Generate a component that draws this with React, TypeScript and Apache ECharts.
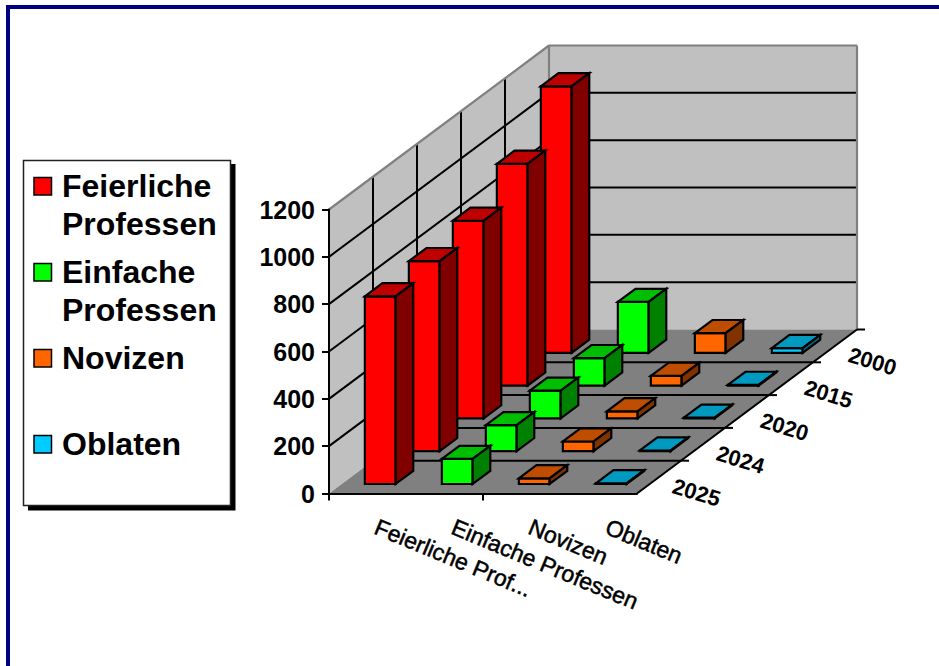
import React, { useEffect, useRef } from "react";
import * as echarts from "echarts";

const categories = ["Feierliche Prof...", "Einfache Professen", "Novizen", "Oblaten"];
const years = ["2000", "2015", "2020", "2024", "2025"];
const feierliche = [1126, 937, 835, 803, 793];
const einfache = [215, 116, 117, 110, 106];
const novizen = [83, 41, 30, 41, 24];
const oblaten = [20, 3, 3, 3, 3];
const valueTicks = [0, 200, 400, 600, 800, 1000, 1200];
const xTickPositions = [0, 2];
const legendLabels = ["Feierliche\nProfessen", "Einfache\nProfessen", "Novizen", "Oblaten"];
const seriesNames = ["Feierliche Professen", "Einfache Professen", "Novizen", "Oblaten"];
const seriesValues = [feierliche, einfache, novizen, oblaten];
const faceColors = [
  ["#FF0000", "#BF0000", "#800000"],
  ["#00FF00", "#00BF00", "#008000"],
  ["#FF6600", "#BF4D00", "#803300"],
  ["#00CCFF", "#0099BF", "#006680"],
];

const FONT = '"Liberation Sans", Arial, sans-serif';
const DEPTH_DX = 44;
const DEPTH_DY = -32.8;
const BAR_START = 0.3;
const BAR_WIDTH = 0.4;
const BAR_DEPTH_START = 0.29;
const BAR_DEPTH = 0.4;

function project(api: any, cat: number, depth: number, value: number): number[] {
  const p = api.coord([cat, value]);
  return [p[0] + depth * DEPTH_DX, p[1] + depth * DEPTH_DY];
}

function renderBackdrop(_p: any, api: any) {
  const rows = years.length;
  const cats = categories.length;
  const top = valueTicks[valueTicks.length - 1];
  const P = (c: number, d: number, v: number) => project(api, c, d, v);
  const kids: any[] = [];
  kids.push({
    type: "polygon",
    shape: { points: [P(0, 0, 0), P(0, rows, 0), P(0, rows, top), P(0, 0, top)] },
    style: { fill: "#C0C0C0" },
  });
  kids.push({
    type: "polygon",
    shape: { points: [P(0, rows, 0), P(cats, rows, 0), P(cats, rows, top), P(0, rows, top)] },
    style: { fill: "#C0C0C0" },
  });
  kids.push({
    type: "polygon",
    shape: { points: [P(0, 0, 0), P(cats, 0, 0), P(cats, rows, 0), P(0, rows, 0)] },
    style: { fill: "#808080" },
  });
  const line = (a: number[], b: number[], stroke: string, lineWidth = 2) => ({
    type: "line",
    shape: { x1: a[0], y1: a[1], x2: b[0], y2: b[1] },
    style: { stroke, lineWidth },
  });
  for (let d = 1; d < rows; d++) {
    kids.push(line(P(0, d, 0), P(0, d, top), "#000"));
    kids.push(line(P(0, d, 0), P(cats, d, 0), "#000"));
    const e = P(cats, d, 0);
    kids.push(line(e, [e[0] + 8, e[1]], "#000"));
  }
  for (const v of valueTicks) {
    if (v === 0 || v === top) continue;
    kids.push(line(P(0, 0, v), P(0, rows, v), "#000"));
    kids.push(line(P(0, rows, v), P(cats, rows, v), "#000"));
  }
  // wall edges
  kids.push(line(P(0, 0, top), P(0, rows, top), "#808080", 2.2));
  kids.push(line(P(0, rows, top), P(cats, rows, top), "#808080", 2.2));
  kids.push(line(P(0, rows, 0), P(0, rows, top), "#808080", 2.2));
  kids.push(line(P(cats, rows, 0), P(cats, rows, top), "#808080", 2.2));
  // depth axis
  kids.push(line(P(cats, 0, 0), P(cats, rows, 0), "#000"));
  const back = P(cats, rows, 0);
  kids.push(line(back, [back[0] + 8, back[1]], "#000"));
  // x ticks
  for (const t of xTickPositions) {
    const a = P(t, 0, 0);
    kids.push(line(a, [a[0], a[1] + 7], "#000"));
  }
  // year labels
  years.forEach((y, i) => {
    const c = P(cats, rows - 1 - i + 0.5, 0);
    kids.push({
      type: "text",
      x: c[0] + 37.5,
      y: c[1] + 15.5,
      rotation: (-17 * Math.PI) / 180,
      style: {
        text: y,
        fill: "#000",
        fontFamily: FONT,
        fontSize: 22,
        fontWeight: "bold",
        textAlign: "center",
        textVerticalAlign: "middle",
      },
    });
  });
  return { type: "group", children: kids };
}

function makeBarRenderer(cat: number) {
  return (_p: any, api: any) => {
    const yearIndex = api.value(0);
    const value = api.value(1);
    const row = years.length - 1 - yearIndex;
    const c0 = cat + BAR_START;
    const c1 = c0 + BAR_WIDTH;
    const d0 = row + BAR_DEPTH_START;
    const d1 = d0 + BAR_DEPTH;
    const P = (c: number, d: number, v: number) => project(api, c, d, v);
    const [front, topFace, side] = faceColors[cat];
    const base = { stroke: "#000", lineWidth: 2.2, lineJoin: "miter" };
    return {
      type: "group",
      children: [
        {
          type: "polygon",
          shape: { points: [P(c0, d0, 0), P(c1, d0, 0), P(c1, d0, value), P(c0, d0, value)] },
          style: { ...base, fill: front },
        },
        {
          type: "polygon",
          shape: { points: [P(c0, d0, value), P(c1, d0, value), P(c1, d1, value), P(c0, d1, value)] },
          style: { ...base, fill: topFace },
        },
        {
          type: "polygon",
          shape: { points: [P(c1, d0, 0), P(c1, d1, 0), P(c1, d1, value), P(c1, d0, value)] },
          style: { ...base, fill: side },
        },
      ],
    };
  };
}

export default function App() {
  const ref = useRef<HTMLDivElement>(null);
  useEffect(() => {
    const chart = echarts.init(ref.current!, undefined, { renderer: "svg" });
    const legendGraphics: any[] = [
      { type: "rect", z: 0, shape: { x: 6, y: 5, width: 933, height: 4 }, style: { fill: "#000080" } },
      { type: "rect", z: 0, shape: { x: 6, y: 5, width: 4, height: 661 }, style: { fill: "#000080" } },
      { type: "rect", z: 0, shape: { x: 28, y: 164, width: 207.5, height: 346.5 }, style: { fill: "#000" } },
      {
        type: "rect",
        z: 1,
        shape: { x: 23.5, y: 160.5, width: 207, height: 345 },
        style: { fill: "#fff", stroke: "#222", lineWidth: 1.5 },
      },
    ];
    legendLabels.forEach((label, i) => {
      legendGraphics.push({
        type: "rect",
        z: 2,
        shape: { x: 34, y: 177.5 + 86 * i, width: 17.5, height: 17.5 },
        style: { fill: faceColors[i][0], stroke: "#000", lineWidth: 1.5 },
      });
      legendGraphics.push({
        type: "text",
        z: 2,
        x: 62,
        y: 166.5 + 86 * i,
        style: {
          text: label,
          fill: "#000",
          fontFamily: FONT,
          fontSize: 32,
          fontWeight: "bold",
          lineHeight: 38,
          textAlign: "left",
          textVerticalAlign: "top",
        },
      });
    });
    chart.setOption({
      animation: false,
      backgroundColor: "#fff",
      graphic: legendGraphics,
      grid: { left: 329, top: 209.5, width: 308, height: 284, containLabel: false },
      xAxis: [
        {
          type: "category",
          data: categories,
          z: 5,
          axisLine: { show: true, lineStyle: { color: "#000", width: 2 } },
          axisTick: { show: false },
          axisLabel: {
            interval: 0,
            rotate: -22.5,
            margin: 29,
            padding: [0, 0, 0, 9],
            color: "#000",
            fontFamily: FONT,
            fontSize: 23,
            fontWeight: "normal",
            textBorderColor: "#000",
            textBorderWidth: 0.5,
          },
        },
        { type: "value", min: 0, max: categories.length, show: false },
      ],
      yAxis: {
        type: "value",
        min: 0,
        max: 1200,
        interval: 200,
        z: 5,
        axisLine: { show: true, lineStyle: { color: "#000", width: 2 } },
        axisTick: { show: true, length: 7, lineStyle: { color: "#000", width: 2 } },
        splitLine: { show: false },
        axisLabel: {
          margin: 14,
          color: "#000",
          fontFamily: FONT,
          fontSize: 25,
          fontWeight: "bold",
          formatter: (v: number) => String(v),
        },
      },
      series: [
        {
          type: "custom",
          name: "Wände",
          silent: true,
          z: 1,
          xAxisIndex: 1,
          yAxisIndex: 0,
          clip: false,
          data: [[0, 0]],
          encode: { x: 0, y: 1 },
          renderItem: renderBackdrop,
        },
        ...seriesNames.map((name, cat) => ({
          type: "custom",
          name,
          z: 2,
          xAxisIndex: 1,
          yAxisIndex: 0,
          clip: false,
          encode: { x: 0, y: 1 },
          data: seriesValues[cat].map((v, i) => [i, v]),
          renderItem: makeBarRenderer(cat),
        })),
      ],
    });
    return () => chart.dispose();
  }, []);
  return (
    <div
      ref={ref}
      style={{ position: "absolute", left: 0, top: 0, width: 939, height: 666 }}
    />
  );
}
